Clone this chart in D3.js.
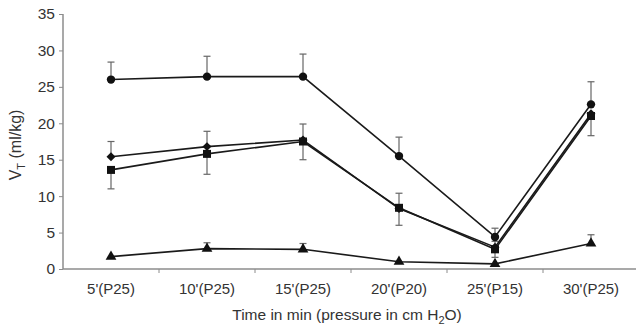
<!DOCTYPE html>
<html>
<head>
<meta charset="utf-8">
<script src="https://cdn.jsdelivr.net/npm/d3@7"></script>
<style>
  body { margin: 0; background: #fff; }
  text { font-family: "Liberation Sans", Arial, sans-serif; fill: #333; }
</style>
</head>
<body>
<div class="chartWrap"></div>
<script>
// categories on the x axis
var times = ["5'(P25)", "10'(P25)", "15'(P25)", "20'(P20)", "25'(P15)", "30'(P25)"];
var yTicks = [0, 5, 10, 15, 20, 25, 30, 35];

// mean values for each group
var circleVals   = [26.0, 26.4, 26.4, 15.5, 4.4, 22.6];
var diamondVals  = [15.4, 16.8, 17.7, 8.3, 3.0, 21.3];
var squareVals   = [13.6, 15.8, 17.5, 8.4, 2.7, 21.0];
var triangleVals = [1.7, 2.8, 2.7, 1.0, 0.7, 3.5];

// error bar ends (null = not drawn). circle/diamond/triangle go up, square goes down
var circleErr   = [28.4, 29.2, 29.5, 18.1, 5.6, 25.7];
var diamondErr  = [17.5, 18.9, 19.9, 10.4, 3.8, null];
var squareErr   = [11.0, 13.0, 15.0, 6.0, 1.6, 18.3];
var triangleErr = [null, 3.6, 3.5, null, null, 4.7];

var series = [
  {name: 'circle', vals: circleVals, err: circleErr},
  {name: 'diamond', vals: diamondVals, err: diamondErr},
  {name: 'square', vals: squareVals, err: squareErr},
  {name: 'triangle', vals: triangleVals, err: triangleErr}
];

var width = 636, height = 329;
var svg = d3.select('.chartWrap').append('svg')
  .attr('width', width)
  .attr('height', height);

var x = d3.scaleBand().domain(times).range([63, 639]);
var y = d3.scaleLinear().domain([0, 35]).range([269, 14]);

var axisColor = '#8c8c8c';

// y axis
var yAxis = svg.append('g')
  .attr('transform', 'translate(63,0)')
  .call(d3.axisLeft(y).tickValues(yTicks).tickSize(4).tickPadding(4));
yAxis.selectAll('line').attr('stroke', axisColor);
yAxis.select('.domain').attr('stroke', axisColor).attr('stroke-width', 1.5)
  .attr('d', 'M0,' + y(35) + 'V' + y(0));
yAxis.selectAll('text').style('font-size', '15.5px').style('fill', '#333')
  .style('font-family', '"Liberation Sans", Arial, sans-serif');

// x axis: ticks sit between categories
var xAxis = svg.append('g').attr('transform', 'translate(0,' + y(0) + ')');
xAxis.append('line')
  .attr('x1', 63).attr('x2', 639)
  .attr('stroke', axisColor).attr('stroke-width', 1.5);
xAxis.selectAll('.xtick')
  .data(times.slice(1))
  .enter().append('line')
    .attr('class', 'xtick')
    .attr('x1', function(d){ return x(d); })
    .attr('x2', function(d){ return x(d); })
    .attr('y1', 0).attr('y2', 4)
    .attr('stroke', axisColor);
xAxis.selectAll('.xlabel')
  .data(times)
  .enter().append('text')
    .attr('class', 'xlabel')
    .attr('x', function(d){ return x(d) + x.bandwidth() / 2; })
    .attr('y', 25)
    .attr('text-anchor', 'middle')
    .style('font-size', '15px')
    .text(function(d){ return d; });

var cx = function(i){ return x(times[i]) + x.bandwidth() / 2; };

// error bars
series.forEach(function(s){
  var g = svg.append('g').attr('class', 'err-' + s.name);
  s.err.forEach(function(e, i){
    if (e === null) return;
    g.append('line')
      .attr('x1', cx(i)).attr('x2', cx(i))
      .attr('y1', y(s.vals[i])).attr('y2', y(e))
      .attr('stroke', '#666').attr('stroke-width', 1.2);
    g.append('line')
      .attr('x1', cx(i) - 3.5).attr('x2', cx(i) + 3.5)
      .attr('y1', y(e)).attr('y2', y(e))
      .attr('stroke', '#666').attr('stroke-width', 1.2);
  });
});

// lines
var line = d3.line()
  .x(function(d, i){ return cx(i); })
  .y(function(d){ return y(d); });

series.forEach(function(s){
  svg.append('path')
    .datum(s.vals)
    .attr('d', line)
    .attr('fill', 'none')
    .attr('stroke', '#1a1a1a')
    .attr('stroke-width', 1.6);
});

// markers
var symbols = {
  circle: d3.symbol().type(d3.symbolCircle).size(55),
  diamond: d3.symbol().type(d3.symbolSquare).size(40),
  square: d3.symbol().type(d3.symbolSquare).size(64),
  triangle: d3.symbol().type(d3.symbolTriangle).size(50)
};

series.forEach(function(s){
  svg.selectAll('.m-' + s.name)
    .data(s.vals)
    .enter().append('path')
      .attr('class', 'm-' + s.name)
      .attr('d', symbols[s.name])
      .attr('transform', function(d, i){
        var t = 'translate(' + cx(i) + ',' + y(d) + ')';
        if (s.name === 'diamond') t += ' rotate(45)';
        return t;
      })
      .attr('fill', '#111');
});

// axis titles
var yTitle = svg.append('text')
  .attr('transform', 'translate(21,145) rotate(-90)')
  .attr('text-anchor', 'middle')
  .style('font-size', '16px');
yTitle.append('tspan').text('V');
yTitle.append('tspan').attr('dy', 4).style('font-size', '11px').text('T');
yTitle.append('tspan').attr('dy', -4).text(' (ml/kg)');

var xTitle = svg.append('text')
  .attr('x', 347)
  .attr('y', 320)
  .attr('text-anchor', 'middle')
  .style('font-size', '15.5px');
xTitle.append('tspan').text('Time in min (pressure in cm H');
xTitle.append('tspan').attr('dy', 4).style('font-size', '11px').text('2');
xTitle.append('tspan').attr('dy', -4).text('O)');
</script>
</body>
</html>
